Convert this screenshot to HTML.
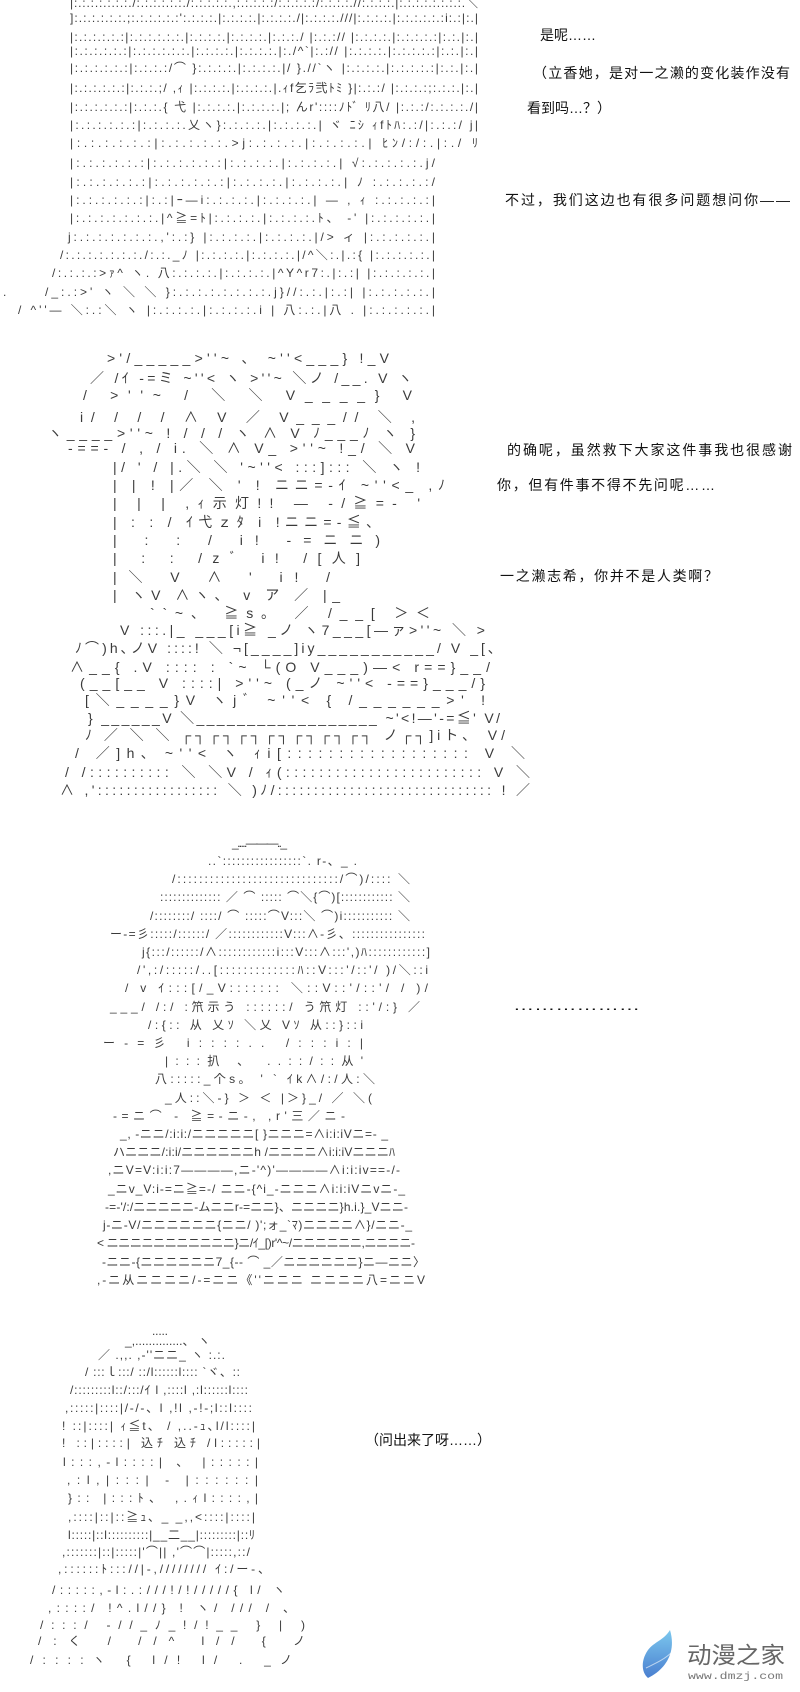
<!DOCTYPE html>
<html><head><meta charset="utf-8"><style>
html,body{margin:0;padding:0;background:#fff;}
svg{display:block}
.a{font-family:"Liberation Sans","Noto Sans CJK JP",sans-serif;font-size:12px;fill:#3a3a3a;white-space:pre}
.b{font-size:14px}
.t{font-family:"Liberation Sans","Noto Sans CJK SC",sans-serif;font-size:14px;fill:#111}
</style></head><body>
<svg width="800" height="1692" viewBox="0 0 800 1692" xmlns="http://www.w3.org/2000/svg" xml:space="preserve">
<rect width="800" height="1692" fill="#fff"/>
<g class="a">
<!-- block 1 -->
<text x="70" y="7" textLength="408" lengthAdjust="spacing">|:.:.:.:.:.:.:./:.:.:.:.:.:./:.:.:.:.:.,:.:.:.:.:/:.:.:.:.:/:.:.:.:.//:.:.:.:.|:.:.:.:.:.:.:.:.＼</text>
<text x="70" y="22" textLength="408" lengthAdjust="spacing">]:.:.:.:.:.:.;:.:.:.:.:.:':.:.:.:.|:.:.:.:.|:.:.:.:./|:.:.:.:.///|:.:.:.:.|:.:.:.:.:.:i:.:|:.|</text>
<text x="70" y="41" textLength="408" lengthAdjust="spacing">|:.:.:.:.:.:|:.:.:.:.:.:.|:.:.:.:.|:.:.:.:.|:.:.:./ |:.:.:// |:.:.:.:.|:.:.:.:.:|:.:.|:.|</text>
<text x="70" y="55" textLength="408" lengthAdjust="spacing">|:.:.:.:.:.:|:.:.:.:.:.:.|:.:.:.:.|:.:.:.:.|:./^`|:.:// |:.:.:.:.|:.:.:.:.:|:.:.|:.|</text>
<text x="70" y="72" textLength="408" lengthAdjust="spacing">|:.:.:.:.:.:|:.:.:.:/⌒ }:.:.:.:.|:.:.:.:.|/   }.//`ヽ |:.:.:.:.|:.:.:.:.:|:.:.|:.|</text>
<text x="70" y="92" textLength="408" lengthAdjust="spacing">|:.:.:.:.:.:|:.:.:.;/ ,ｨ  |:.:.:.:.|:.:.:.:.|.ｨf乞ﾗ弐ﾄﾐ   }|:.:.:/ |:.:.:.:;:.:.:.|:.|</text>
<text x="70" y="111" textLength="408" lengthAdjust="spacing">|:.:.:.:.:.:|:.:.:.{ 弋  |:.:.:.:.|:.:.:.:.|; んr'::::ﾉﾄﾞ   ﾘ八/ |:.:.:/:.:.:.:./|</text>
<text x="70" y="129" textLength="408" lengthAdjust="spacing">|:.:.:.:.:.:|:.:.:.:.乂ヽ}:.:.:.:.|:.:.:.:.|   ヾ ﾆｼ       ｨfﾄﾊ:.:/|:.:.:/  j|</text>
<text x="70" y="147" textLength="408" lengthAdjust="spacing">|:.:.:.:.:.:|:.:.:.:.:.&gt;j:.:.:.:.|:.:.:.:.|             ﾋﾝ/:/:.|:./    ﾘ</text>
<text x="70" y="167" textLength="365" lengthAdjust="spacing">|:.:.:.:.:.:|:.:.:.:.:.:|:.:.:.:.|:.:.:.:.|              √:.:.:.:.:.j/</text>
<text x="70" y="186" textLength="365" lengthAdjust="spacing">|:.:.:.:.:.:|:.:.:.:.:.:|:.:.:.:.|:.:.:.:.|              ﾉ :.:.:.:.:/</text>
<text x="70" y="204" textLength="365" lengthAdjust="spacing">|:.:.:.:.:.:|:.:|ｰ―i:.:.:.:.|:.:.:.:.|        ―  ,   ｨ :.:.:.:.:|</text>
<text x="70" y="222" textLength="365" lengthAdjust="spacing">|:.:.:.:.:.:.:.|^≧=ﾄ|:.:.:.:.|:.:.:.:.ﾄ、      -'     |:.:.:.:.:.|</text>
<text x="68" y="241" textLength="367" lengthAdjust="spacing">j:.:.:.:.:.:.:.,':.:}   |:.:.:.:.|:.:.:.:.|/&gt;      ィ     |:.:.:.:.:.|</text>
<text x="60" y="259" textLength="375" lengthAdjust="spacing">/:.:.:.:.:.:.:./:.:._ﾉ   |:.:.:.:.|:.:.:.:.|/^＼:.|.:{    |:.:.:.:.:.|</text>
<text x="52" y="277" textLength="383" lengthAdjust="spacing">/:.:.:.:&gt;ｧ^   ヽ.  八:.:.:.:.|:.:.:.:.|^Y^r7:.|:.:|    |:.:.:.:.:.|</text>
<text x="45" y="296" textLength="390" lengthAdjust="spacing">/_:.:&gt;'  ヽ ＼   ＼  }:.:.:.:.:.:.:.:.j}//:.:.|:.:|    |:.:.:.:.:.|</text>
<text x="18" y="314" textLength="417" lengthAdjust="spacing">/ ^''―      ＼:.:＼ ヽ  |:.:.:.:.|:.:.:.:.i | 八:.:.|八 .   |:.:.:.:.:.|</text>
</g>
<g class="a b">
<!-- block 2 -->
<text x="107" y="363" textLength="282" lengthAdjust="spacing">&gt;'/_____&gt;''~          、           ~''&lt;___} !_V</text>
<text x="90" y="383" textLength="322" lengthAdjust="spacing">／  /ｲ  -=ミ       ~''&lt;  ヽ       &gt;''~ ＼ノ /__. V ヽ</text>
<text x="83" y="400" textLength="329" lengthAdjust="spacing">/  &gt;''~    /          ＼  ＼            V____}   V</text>
<text x="80" y="422" textLength="335" lengthAdjust="spacing">i/ /  /  /               ∧  V      ／ V___// ＼ ,</text>
<text x="48" y="438" textLength="367" lengthAdjust="spacing">ヽ____&gt;''~ !  /   /   /        ヽ  ∧  V       ﾉ___ﾉ   ヽ }</text>
<text x="68" y="453" textLength="347" lengthAdjust="spacing">-==-      /    ,    /      i.     ＼ ∧  V_ &gt;''~  !_/  ＼   V</text>
<text x="113" y="472" textLength="307" lengthAdjust="spacing">|/     '     /      |.＼     ＼  '~''&lt;  :::]:::  ＼  ヽ !</text>
<text x="113" y="490" textLength="332" lengthAdjust="spacing">|      |      !      |／  ＼     ' !   ニニ=-ｲ ~''&lt;_ ,ﾉ</text>
<text x="113" y="508" textLength="307" lengthAdjust="spacing">|      |      |      ,ｨ示灯!!     ―  -/≧=-   '</text>
<text x="113" y="527" textLength="267" lengthAdjust="spacing">|      :      :     /    ｲ弋ｚﾀ  i !ニニ=-≦、</text>
<text x="113" y="545" textLength="267" lengthAdjust="spacing">|      :      :    /              i!     -=ニニ)</text>
<text x="113" y="563" textLength="247" lengthAdjust="spacing">|      :      :   /zﾞ             i!   /[人]</text>
<text x="113" y="582" textLength="217" lengthAdjust="spacing">|＼    V    ∧            '      i!  /</text>
<text x="113" y="600" textLength="227" lengthAdjust="spacing">|    ヽV   ∧ヽ、       v  ア     ／   |_</text>
<text x="150" y="618" textLength="280" lengthAdjust="spacing">``~、   ≧s。           ／    /__[             ＞＜</text>
<text x="120" y="635" textLength="365" lengthAdjust="spacing">V      :::.|_      ___[i≧ _ノ ヽ7___[―ァ&gt;''~      ＼    &gt;</text>
<text x="75" y="653" textLength="420" lengthAdjust="spacing">ﾉ⌒)h､ノV    ::::!   ＼ ¬[____]iy___________/              V _[､</text>
<text x="70" y="672" textLength="420" lengthAdjust="spacing">∧__{     .V    ::::   :     `~   └(O V___)―&lt;               r==}__/</text>
<text x="80" y="688" textLength="405" lengthAdjust="spacing">(__[__     V    ::::|      &gt;''~  (_ノ ~''&lt;            -==}___/}</text>
<text x="85" y="705" textLength="400" lengthAdjust="spacing">[＼____}V    ヽjﾞ                     ~''&lt;    {   /______&gt;'   !</text>
<text x="88" y="723" textLength="412" lengthAdjust="spacing">}       ______V     ＼__________________  ~'&lt;!―'-=≦'          V/</text>
<text x="85" y="740" textLength="420" lengthAdjust="spacing">ﾉ        ／  ＼    ＼ ┌┐┌┐┌┐┌┐┌┐┌┐┌┐ ノ┌┐]iト、             V/</text>
<text x="75" y="758" textLength="450" lengthAdjust="spacing">/      ／]h､     ~''&lt;  ヽ            ｨi[::::::::::::::::::   V               ＼</text>
<text x="65" y="777" textLength="465" lengthAdjust="spacing">/     /::::::::::   ＼     ＼V /  ｨ(::::::::::::::::::::::::   V                ＼</text>
<text x="60" y="795" textLength="470" lengthAdjust="spacing">∧    ,':::::::::::::::::   ＼      )ﾉ/::::::::::::::::::::::::::::::   !               ／</text>
</g>
<g class="a">
<!-- block 3 -->
<text x="232" y="847" textLength="55" lengthAdjust="spacing">_.....―――.._</text>
<text x="208" y="865" textLength="149" lengthAdjust="spacing">..`:::::::::::::::::`.  r-、_ .</text>
<text x="172" y="883" textLength="238" lengthAdjust="spacing">/::::::::::::::::::::::::::::::/⌒)/::::    ＼</text>
<text x="160" y="901" textLength="250" lengthAdjust="spacing">:::::::::::::: ／ ⌒ ::::: ⌒＼{⌒)[::::::::::::   ＼</text>
<text x="150" y="920" textLength="260" lengthAdjust="spacing">/::::::::/  ::::/ ⌒ :::::⌒V:::＼ ⌒)i:::::::::::    ＼</text>
<text x="110" y="938" textLength="315" lengthAdjust="spacing">ー-=彡:::::/::::::/ ／::::::::::::V:::∧-彡、::::::::::::::::</text>
<text x="142" y="956" textLength="288" lengthAdjust="spacing">j{:::/::::::/∧::::::::::::i:::V:::∧:::',)ﾊ::::::::::::]</text>
<text x="137" y="974" textLength="291" lengthAdjust="spacing">/',:/:::::/..[:::::::::::::ﾊ::V:::'/::'/    )/＼::i</text>
<text x="125" y="992" textLength="303" lengthAdjust="spacing">/   v  ｲ:::[/_V:::::::   ＼::V::'/::'/    /    )/</text>
<text x="110" y="1011" textLength="310" lengthAdjust="spacing">___/ /:/ :笊示う  ::::::/  う笊灯 ::'/:}        ／</text>
<text x="148" y="1029" textLength="215" lengthAdjust="spacing">/:{:: 从 乂ｿ   ＼乂      Vｿ 从::}::i</text>
<text x="103" y="1047" textLength="260" lengthAdjust="spacing">ー-=彡    i::::..                       /:::i:|</text>
<text x="165" y="1065" textLength="198" lengthAdjust="spacing">|:::扒            、            ..::/::从'</text>
<text x="155" y="1083" textLength="220" lengthAdjust="spacing">八:::::_个s。    ' `      ｲk∧/:/人:＼</text>
<text x="165" y="1102" textLength="207" lengthAdjust="spacing">_人::＼-}  ＞    ＜ |＞}_/ ／   ＼(</text>
<text x="113" y="1120" textLength="232" lengthAdjust="spacing">-=ニ⌒    -  ≧=-ニ-,       ,r'三／ニ-</text>
<text x="120" y="1138" textLength="268" lengthAdjust="spacing">_, -ニニ/:i:i:/ニニニニニ[       }ニニニ=∧i:i:iVニ=-   _</text>
<text x="113" y="1156" textLength="282" lengthAdjust="spacing">ハニニニ/:i:i/ニニニニニニh     /ニニニニ∧i:i:iVニニニﾊ</text>
<text x="108" y="1174" textLength="292" lengthAdjust="spacing">,ニV=V:i:i:7――――,ニ-'^)'――――∧i:i:iv==-/-</text>
<text x="108" y="1193" textLength="297" lengthAdjust="spacing">_ニv_V:i-=ニ≧=-/ ニニ-{^i_-ニニニ∧i:i:iVニvニ-_</text>
<text x="105" y="1211" textLength="303" lengthAdjust="spacing">-=-'/:/ニニニニニ-ムニニr-=ニニ}、ニニニニ}h.i.}_Vニニ-</text>
<text x="103" y="1229" textLength="309" lengthAdjust="spacing">j-ニ-V/ニニニニニニ{ニニ/ )';ォ_`ﾏ)ニニニニ∧}/ニニ-_</text>
<text x="97" y="1247" textLength="318" lengthAdjust="spacing">&lt;  ニニニニニニニニニニニ}ニ/ｲ_[)r'^~/ニニニニニニ,ニニニニ-</text>
<text x="102" y="1266" textLength="323" lengthAdjust="spacing">-ニニ-{ニニニニニニ7_{-- ⌒ _／ニニニニニニ}ニ―ニニ〉</text>
<text x="97" y="1284" textLength="328" lengthAdjust="spacing">,-ニ从ニニニニ/-=ニニ《''ニニニ ニニニニ八=ニニV</text>
<!-- block 4 -->
<text x="152" y="1335" textLength="16" lengthAdjust="spacing">.....</text>
<text x="125" y="1345" textLength="85" lengthAdjust="spacing">_,..............、 ヽ</text>
<text x="98" y="1359" textLength="127" lengthAdjust="spacing">／ .,,.  ,-''ニニ_ ヽ :.:.</text>
<text x="85" y="1376" textLength="155" lengthAdjust="spacing">/ :::ｌ:::/ ::/l::::::l::::  `ヾ、::</text>
<text x="70" y="1394" textLength="178" lengthAdjust="spacing">/:::::::::l::/:::/ｲ l ,::::l  ,:l::::::l::::</text>
<text x="65" y="1412" textLength="187" lengthAdjust="spacing">,:::::|::::|/-/-、l  ,!l  ,-!-;l::l::::</text>
<text x="62" y="1430" textLength="193" lengthAdjust="spacing">! ::|::::| ｨ≦t、     /     ,..-ｭ､l/l::::|</text>
<text x="62" y="1447" textLength="198" lengthAdjust="spacing">! ::|::::|  込ﾁ              込ﾁ /l:::::|</text>
<text x="63" y="1466" textLength="195" lengthAdjust="spacing">l:::,-l::::|         、             |:::::|</text>
<text x="67" y="1484" textLength="191" lengthAdjust="spacing">,:l,|:::|               -             |::::::|</text>
<text x="68" y="1502" textLength="190" lengthAdjust="spacing">}:: |:::ﾄ、                      ,.ｨl::::,|</text>
<text x="68" y="1521" textLength="187" lengthAdjust="spacing">,::::|::|::≧ｭ､   _   _,,&lt;::::|::::|</text>
<text x="68" y="1539" textLength="187" lengthAdjust="spacing">l:::::|::l::::::::::|__二__|:::::::::|::ﾘ</text>
<text x="62" y="1556" textLength="188" lengthAdjust="spacing">,:::::::|::|:::::|'⌒|| ,'⌒⌒|:::::,::/</text>
<text x="58" y="1573" textLength="212" lengthAdjust="spacing">,::::::ﾄ::://|-,//////// ｲ:/ー-、</text>
<text x="52" y="1594" textLength="233" lengthAdjust="spacing">/:::::,-l:.:///!/!/////{    l/            ヽ</text>
<text x="48" y="1612" textLength="247" lengthAdjust="spacing">,::::/     !^.l//}  ! ヽ/ ///   /               、</text>
<text x="40" y="1629" textLength="265" lengthAdjust="spacing">/:::/     -//_ﾉ_!/!__ } |                      )</text>
<text x="38" y="1645" textLength="267" lengthAdjust="spacing">/:く      / //^ l//     {                      ノ</text>
<text x="30" y="1664" textLength="262" lengthAdjust="spacing">/::::ヽ     {  l/!      l/        .            _ノ</text>
</g>
<text x="3" y="296" class="a">.</text>
<!-- dialogue -->
<g class="t">
<text x="540" y="40">是呢……</text>
<text x="533" y="78" textLength="257" lengthAdjust="spacing">（立香她，是对一之濑的变化装作没有</text>
<text x="527" y="113">看到吗…？）</text>
<text x="505" y="205" textLength="285" lengthAdjust="spacing">不过，我们这边也有很多问题想问你——</text>
<text x="507" y="455" textLength="285" lengthAdjust="spacing">的确呢，虽然救下大家这件事我也很感谢</text>
<text x="497" y="490" textLength="218" lengthAdjust="spacing">你，但有件事不得不先问呢……</text>
<text x="500" y="581" textLength="218" lengthAdjust="spacing">一之濑志希，你并不是人类啊？</text>
<text x="513" y="1010" textLength="127" lengthAdjust="spacingAndGlyphs">………………</text>
<text x="365" y="1445">（问出来了呀……）</text>
</g>
<!-- logo -->
<defs><linearGradient id="g" x1="0" y1="0" x2="0" y2="1"><stop offset="0" stop-color="#7cc8ee"/><stop offset="1" stop-color="#4a7fd0"/></linearGradient></defs>
<path d="M670 1630 C676 1650 668 1668 648 1678 C641 1672 641 1660 648 1650 C654 1642 664 1640 670 1630 Z" fill="url(#g)"/>
<path d="M646 1668 C654 1664 664 1660 672 1652" stroke="#fff" stroke-width="1" fill="none" opacity="0.6"/>
<text x="687" y="1663" font-family="'Noto Sans CJK SC',sans-serif" font-size="23" fill="#666" textLength="98" lengthAdjust="spacingAndGlyphs">动漫之家</text>
<text x="688" y="1679" font-family="'Liberation Mono',monospace" font-size="10" fill="#777" textLength="95" lengthAdjust="spacingAndGlyphs">www.dmzj.com</text>
</svg>
</body></html>
